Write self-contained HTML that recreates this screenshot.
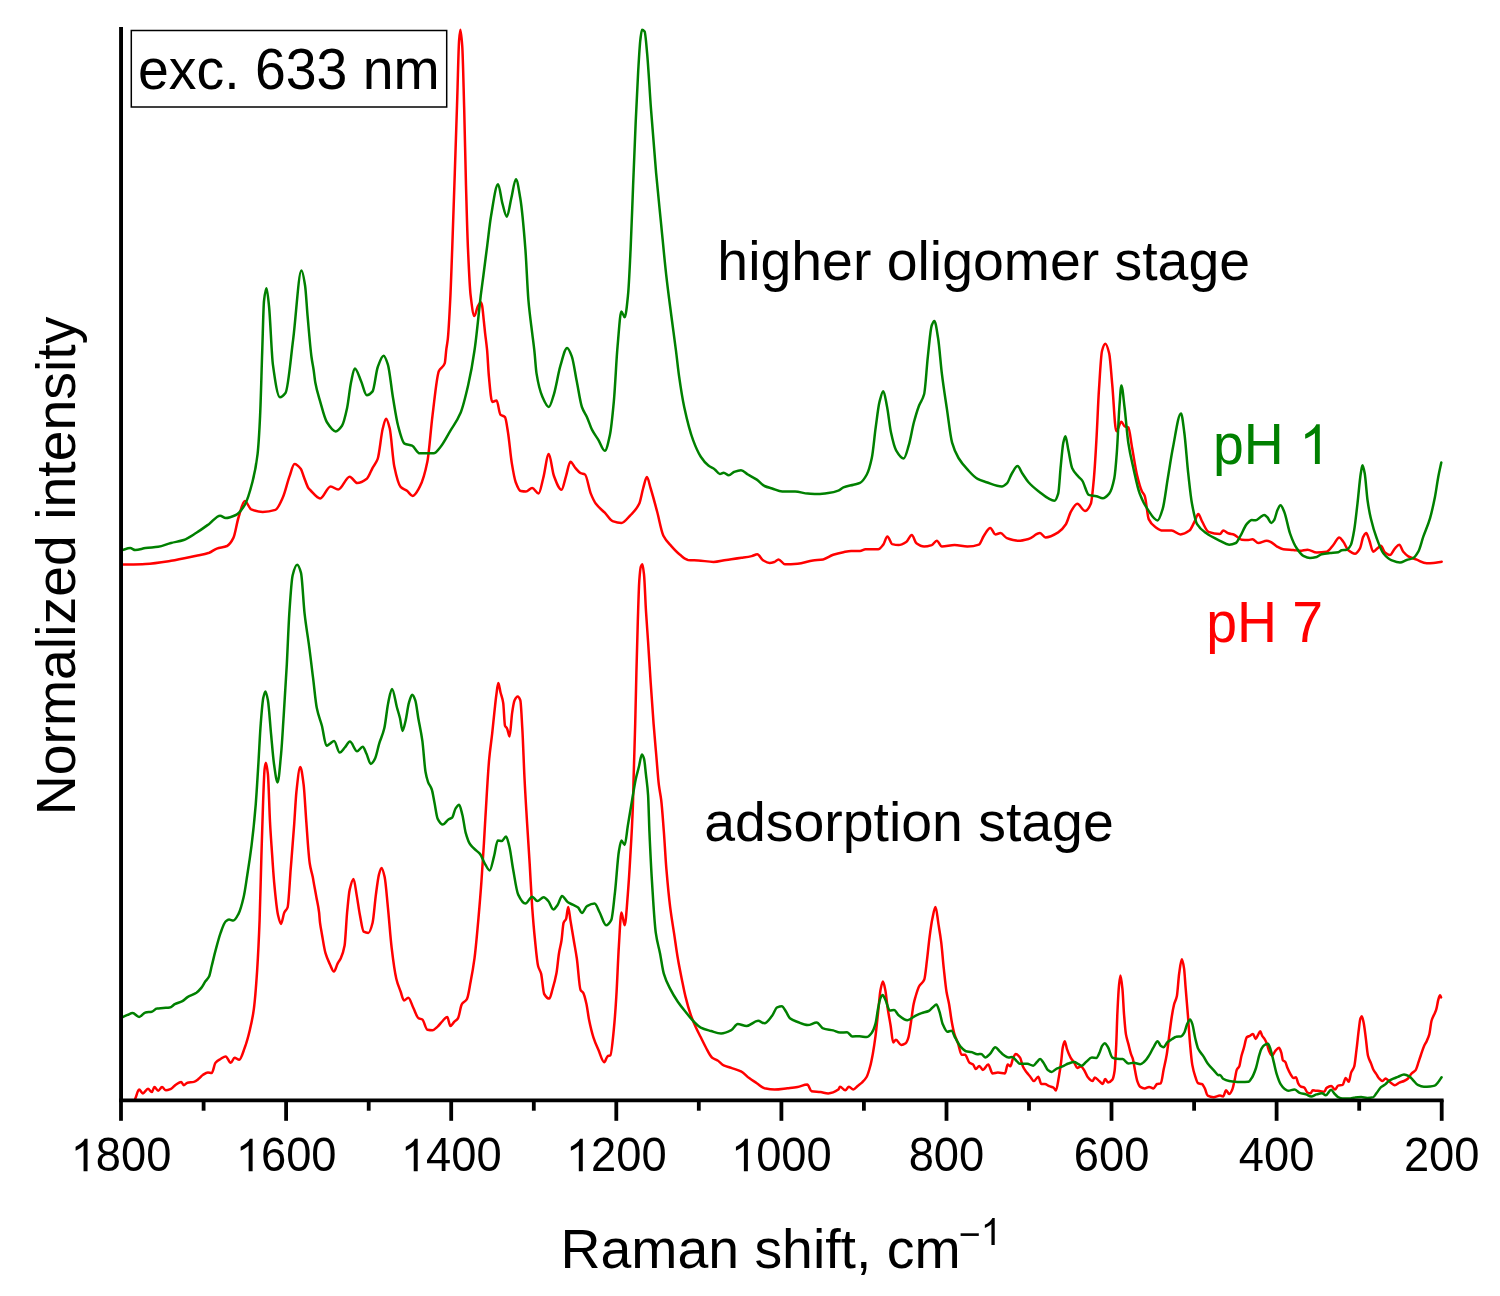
<!DOCTYPE html>
<html><head><meta charset="utf-8"><style>
html,body{margin:0;padding:0;background:#fff;}
svg{display:block;font-family:"Liberation Sans",sans-serif;will-change:transform;}
</style></head><body>
<svg width="1500" height="1296" viewBox="0 0 1500 1296">
<rect x="0" y="0" width="1500" height="1296" fill="#fff"/>
<path fill="none" stroke="#ff0000" stroke-width="2.5" stroke-linejoin="round" stroke-linecap="round" d="M135.3,1098.5C136.6,1095.5 137.8,1089.6 139.1,1089.6C140.4,1089.6 141.6,1093.4 142.9,1093.4C144.6,1093.4 146.3,1088.8 148.0,1088.8C149.3,1088.8 150.5,1092.1 151.8,1092.1C152.7,1092.1 153.5,1087.0 154.4,1087.0C155.7,1087.0 156.9,1090.8 158.2,1090.8C159.5,1090.8 160.7,1087.0 162.0,1087.0C163.3,1087.0 164.6,1090.3 165.9,1090.3C167.6,1090.3 169.3,1089.5 171.0,1088.8C172.7,1088.1 174.4,1085.6 176.1,1084.5C177.8,1083.4 179.4,1081.9 181.1,1081.9C182.0,1081.9 182.8,1085.2 183.7,1085.2C185.0,1085.2 186.2,1083.0 187.5,1082.7C189.6,1082.2 191.8,1082.4 193.9,1081.9C195.6,1081.5 197.3,1079.9 199.0,1078.6C200.3,1077.6 201.5,1075.8 202.8,1075.0C204.5,1073.9 206.2,1072.5 207.9,1072.5C209.2,1072.5 210.4,1073.0 211.7,1073.0C213.0,1073.0 214.2,1064.3 215.5,1062.8C217.2,1060.8 218.9,1060.0 220.6,1059.0C222.3,1058.0 224.0,1056.4 225.7,1056.4C227.4,1056.4 229.1,1062.8 230.8,1062.8C232.1,1062.8 233.3,1057.7 234.6,1057.7C236.1,1057.7 237.7,1059.7 239.2,1059.7C241.1,1059.7 242.9,1052.5 244.8,1047.5C246.5,1042.9 248.2,1036.9 249.9,1029.7C251.2,1024.2 252.5,1018.8 253.8,1009.3C254.9,1001.3 256.0,987.6 257.1,971.1C257.9,958.6 258.8,942.0 259.6,920.1C260.2,904.3 260.8,876.6 261.4,856.4C261.9,838.5 262.5,819.3 263.0,805.1C263.5,791.0 264.1,773.3 264.6,769.1C265.0,765.7 265.5,762.7 265.9,762.7C266.6,762.7 267.2,768.1 267.9,774.2C268.6,780.6 269.3,808.8 270.0,821.7C270.7,835.2 271.5,845.0 272.2,855.7C272.8,864.9 273.5,875.1 274.1,881.9C275.4,895.9 276.7,909.4 278.0,915.0C279.0,919.3 280.0,923.9 281.0,923.9C282.1,923.9 283.2,914.8 284.3,912.5C285.4,910.2 286.5,910.4 287.6,907.4C288.6,904.5 289.7,882.2 290.7,869.2C291.9,854.5 293.0,840.3 294.2,824.2C294.9,814.2 295.7,798.8 296.4,792.0C297.7,780.0 299.0,767.1 300.3,767.1C301.4,767.1 302.5,775.9 303.6,784.4C304.5,791.3 305.4,810.0 306.3,821.7C307.4,836.6 308.6,856.4 309.8,863.8C310.7,870.1 311.7,871.8 312.7,876.8C313.0,878.3 313.3,880.2 313.6,881.9C314.5,887.1 315.5,892.0 316.4,897.2C317.3,902.2 318.2,905.3 319.1,912.5C319.4,914.9 319.7,920.3 320.0,922.7C320.6,927.3 321.1,929.7 321.7,932.9C323.0,940.1 324.2,948.8 325.5,953.2C327.0,958.5 328.6,961.5 330.1,964.7C331.4,967.4 332.6,971.6 333.9,971.6C335.2,971.6 336.4,965.8 337.7,963.4C338.7,961.5 339.8,960.6 340.8,958.3C342.1,955.5 343.3,952.6 344.6,945.6C345.4,941.0 346.3,921.3 347.1,912.5C348.0,903.3 348.8,893.4 349.7,889.6C351.0,884.0 352.2,878.9 353.5,878.9C354.5,878.9 355.6,888.9 356.6,894.6C357.7,900.7 358.8,909.3 359.9,915.0C361.2,921.5 362.4,930.9 363.7,931.6C365.2,932.4 366.8,932.9 368.3,932.9C369.7,932.9 371.2,928.2 372.6,922.7C373.7,918.5 374.8,902.7 375.9,894.6C376.9,887.0 378.0,878.0 379.0,874.3C379.8,871.3 380.7,867.9 381.5,867.9C382.5,867.9 383.6,872.3 384.6,876.8C385.7,881.6 386.8,896.5 387.9,907.4C389.2,920.0 390.4,937.7 391.7,948.2C393.2,960.9 394.8,972.4 396.3,978.7C397.7,984.6 399.2,987.5 400.6,991.5C401.7,994.6 402.9,1000.4 404.0,1000.4C405.4,1000.4 406.9,997.8 408.3,997.8C410.0,997.8 411.7,1004.6 413.4,1008.0C415.1,1011.4 416.8,1017.2 418.5,1018.2C419.8,1018.9 421.0,1018.8 422.3,1019.5C424.0,1020.5 425.7,1029.4 427.4,1029.7C429.1,1030.0 430.8,1030.2 432.5,1030.2C434.2,1030.2 435.9,1028.1 437.6,1026.6C439.3,1025.1 441.0,1022.4 442.7,1020.8C444.2,1019.3 445.8,1016.9 447.3,1016.9C448.3,1016.9 449.3,1025.9 450.3,1025.9C451.6,1025.9 452.8,1023.3 454.1,1022.0C455.4,1020.7 456.7,1020.2 458.0,1018.2C459.3,1016.2 460.5,1006.2 461.8,1004.2C463.5,1001.4 465.2,1002.0 466.9,999.1C468.2,996.9 469.4,988.0 470.7,981.3C472.0,974.6 473.2,967.9 474.5,958.3C475.8,948.7 477.0,934.2 478.3,920.1C479.3,908.6 480.4,896.1 481.4,881.9C482.2,870.5 483.1,857.4 483.9,843.7C484.4,835.5 484.9,825.8 485.4,817.5C486.7,796.6 487.9,772.6 489.2,758.9C490.2,748.1 491.2,742.5 492.2,733.4C492.9,727.0 493.6,719.6 494.3,713.1C495.0,706.9 495.6,700.0 496.3,695.2C497.0,690.4 497.6,683.0 498.3,683.0C499.1,683.0 499.8,689.6 500.6,692.7C501.5,696.2 502.3,697.5 503.2,702.9C503.8,706.6 504.4,724.4 505.0,725.8C505.7,727.3 506.3,727.1 507.0,728.3C507.9,729.8 508.7,736.5 509.6,736.5C510.4,736.5 511.3,718.6 512.1,713.1C512.9,707.6 513.8,702.0 514.6,700.3C515.6,698.2 516.7,696.5 517.7,696.5C518.6,696.5 519.4,697.9 520.3,700.3C521.0,702.1 521.6,716.9 522.3,728.3C523.1,741.5 523.8,765.0 524.6,780.0C525.4,796.3 526.3,809.6 527.1,823.3C528.0,837.6 528.8,849.8 529.7,864.1C530.5,877.8 531.4,895.7 532.2,907.4C533.1,919.6 533.9,929.4 534.8,938.0C535.9,948.9 537.0,961.7 538.1,966.0C539.1,969.9 540.1,970.0 541.1,973.6C542.1,977.4 543.2,992.3 544.2,994.0C545.9,996.9 547.6,998.6 549.3,998.6C550.4,998.6 551.5,992.6 552.6,988.9C553.9,984.6 555.1,980.5 556.4,973.6C557.3,968.9 558.1,958.5 559.0,953.2C559.8,948.1 560.7,945.8 561.5,940.5C562.2,936.0 562.9,924.5 563.6,922.7C564.4,920.5 565.3,920.9 566.1,918.9C566.8,917.2 567.5,906.9 568.2,906.9C568.9,906.9 569.7,915.7 570.4,920.1C571.5,926.9 572.7,933.7 573.8,940.5C574.8,946.5 575.8,951.4 576.8,958.3C578.1,967.0 579.3,988.1 580.6,990.2C581.5,991.6 582.3,991.4 583.2,992.7C584.3,994.3 585.4,999.3 586.5,1004.2C587.3,1007.9 588.2,1015.4 589.0,1019.5C590.5,1026.8 591.9,1032.7 593.4,1037.3C595.1,1042.6 596.8,1046.2 598.5,1050.1C600.4,1054.5 602.4,1062.3 604.3,1062.3C605.3,1062.3 606.4,1057.1 607.4,1056.4C608.4,1055.7 609.4,1055.9 610.4,1055.2C611.5,1054.4 612.7,1040.7 613.8,1029.7C614.6,1021.6 615.5,1009.8 616.3,996.6C617.2,982.9 618.0,959.3 618.9,945.6C619.7,932.4 620.6,912.5 621.4,912.5C622.5,912.5 623.6,925.2 624.7,925.2C625.7,925.2 626.8,907.1 627.8,894.6C628.6,884.5 629.5,870.7 630.3,856.4C631.2,841.5 632.0,829.3 632.9,805.5C633.2,798.2 633.4,784.7 633.7,775.0C634.2,756.9 634.7,742.8 635.2,723.8C635.6,708.6 636.0,688.5 636.4,672.7C636.9,654.3 637.3,636.2 637.8,621.6C638.3,606.0 638.8,587.5 639.3,580.7C639.8,573.5 640.4,567.7 640.9,566.4C641.4,565.2 641.8,564.3 642.3,564.3C642.9,564.3 643.4,569.4 644.0,574.5C644.7,580.5 645.3,600.4 646.0,611.3C646.7,622.7 647.4,631.4 648.1,642.0C649.0,655.1 649.8,670.0 650.7,682.9C651.7,697.3 652.6,711.4 653.6,723.8C654.5,734.9 655.3,744.5 656.2,754.5C657.1,764.9 658.0,777.9 658.9,785.2C659.7,791.5 660.4,793.6 661.2,800.0C662.1,807.2 662.9,819.6 663.8,831.0C664.7,842.4 665.5,858.7 666.4,869.2C667.7,884.5 668.9,897.2 670.2,907.4C671.5,917.6 672.7,924.4 674.0,932.9C675.3,941.4 676.5,950.9 677.8,958.3C679.1,965.9 680.4,972.3 681.7,978.7C683.0,985.0 684.2,991.5 685.5,996.6C687.2,1003.5 688.9,1009.5 690.6,1014.4C692.3,1019.3 694.0,1023.3 695.7,1027.1C697.4,1030.9 699.1,1033.9 700.8,1037.3C702.5,1040.7 704.2,1044.4 705.9,1047.5C708.0,1051.3 710.1,1056.1 712.2,1057.7C713.9,1059.0 715.6,1059.3 717.3,1060.3C719.4,1061.6 721.6,1064.4 723.7,1065.4C726.2,1066.6 728.8,1067.0 731.3,1067.9C734.7,1069.1 738.1,1069.9 741.5,1071.7C744.1,1073.0 746.6,1076.2 749.2,1078.1C751.7,1080.0 754.3,1081.5 756.8,1083.2C759.4,1084.9 761.9,1087.7 764.5,1088.3C767.9,1089.0 771.2,1089.6 774.6,1089.6C778.9,1089.6 783.1,1088.8 787.4,1088.3C790.8,1087.9 794.2,1087.6 797.6,1087.0C800.8,1086.4 804.1,1084.5 807.3,1084.5C808.7,1084.5 810.2,1091.0 811.6,1091.3C814.6,1091.9 817.5,1091.7 820.5,1092.1C823.1,1092.4 825.6,1093.4 828.2,1093.4C831.6,1093.4 834.9,1092.0 838.3,1089.6C838.9,1089.2 839.4,1086.7 840.0,1086.7C841.8,1086.7 843.5,1090.3 845.3,1090.3C846.5,1090.3 847.7,1086.7 848.9,1086.7C850.4,1086.7 851.8,1089.4 853.3,1089.4C854.8,1089.4 856.2,1087.1 857.7,1085.9C859.2,1084.7 860.7,1083.7 862.2,1082.3C863.7,1080.9 865.1,1079.6 866.6,1077.0C867.8,1074.9 869.0,1070.8 870.2,1066.3C871.1,1063.1 871.9,1058.7 872.8,1053.9C873.7,1048.9 874.6,1043.1 875.5,1036.2C876.4,1029.3 877.3,1019.6 878.2,1011.3C879.0,1004.2 879.7,993.9 880.5,990.0C881.3,985.9 882.1,981.5 882.9,981.5C883.7,981.5 884.5,986.1 885.3,990.0C886.1,993.7 886.8,1002.6 887.6,1007.8C888.6,1014.5 889.6,1019.3 890.6,1025.5C891.5,1030.9 892.3,1042.4 893.2,1042.4C894.1,1042.4 895.0,1039.7 895.9,1039.7C897.7,1039.7 899.4,1045.0 901.2,1045.0C902.7,1045.0 904.2,1044.3 905.7,1043.3C906.6,1042.7 907.4,1040.6 908.3,1037.9C909.2,1035.1 910.1,1027.7 911.0,1022.0C911.9,1016.5 912.7,1008.5 913.6,1004.2C914.2,1001.2 914.8,999.2 915.4,997.1C916.6,993.0 917.8,988.8 919.0,986.5C920.8,983.2 922.5,983.7 924.3,979.4C925.2,977.2 926.1,967.1 927.0,959.9C927.9,953.0 928.7,943.4 929.6,936.8C930.5,930.0 931.4,923.3 932.3,919.0C933.4,913.9 934.4,907.0 935.5,907.0C936.5,907.0 937.5,918.2 938.5,924.4C939.4,929.9 940.3,934.9 941.2,942.1C942.1,949.0 942.9,960.6 943.8,968.7C944.7,977.1 945.6,986.3 946.5,991.8C947.4,997.1 948.2,999.4 949.1,1004.2C950.0,1009.2 950.9,1017.1 951.8,1022.0C952.7,1026.9 953.6,1031.4 954.5,1034.4C955.7,1038.3 956.8,1040.0 958.0,1043.3C959.2,1046.7 960.4,1054.8 961.6,1054.8C962.8,1054.8 963.9,1054.8 965.1,1054.8C966.6,1054.8 968.0,1061.7 969.5,1062.8C970.7,1063.7 971.9,1063.7 973.1,1064.6C974.0,1065.3 974.9,1069.0 975.8,1069.0C977.0,1069.0 978.1,1066.0 979.3,1066.0C980.5,1066.0 981.7,1069.9 982.9,1069.9C984.7,1069.9 986.4,1064.6 988.2,1064.6C989.7,1064.6 991.1,1073.4 992.6,1073.4C994.4,1073.4 996.1,1072.5 997.9,1072.5C1000.3,1072.5 1002.6,1073.4 1005.0,1073.4C1005.9,1073.4 1006.8,1064.6 1007.7,1064.6C1008.6,1064.6 1009.5,1066.3 1010.4,1066.3C1011.3,1066.3 1012.1,1060.3 1013.0,1058.4C1013.9,1056.5 1014.8,1053.9 1015.7,1053.9C1017.1,1053.9 1018.6,1055.6 1020.0,1057.6C1021.0,1058.9 1021.9,1064.4 1022.9,1066.4C1024.1,1069.0 1025.4,1070.6 1026.6,1072.3C1027.8,1074.0 1029.1,1075.2 1030.3,1076.7C1031.5,1078.1 1032.7,1081.1 1033.9,1081.1C1035.4,1081.1 1036.8,1076.7 1038.3,1076.7C1039.3,1076.7 1040.3,1084.0 1041.3,1084.0C1042.5,1084.0 1043.7,1084.0 1044.9,1084.0C1046.4,1084.0 1047.8,1085.6 1049.3,1086.2C1050.8,1086.8 1052.2,1086.8 1053.7,1087.7C1054.4,1088.1 1055.2,1090.6 1055.9,1090.6C1056.9,1090.6 1057.9,1082.2 1058.9,1076.7C1059.6,1072.6 1060.4,1067.6 1061.1,1062.0C1061.7,1057.7 1062.2,1050.0 1062.8,1047.3C1063.4,1044.3 1064.1,1041.2 1064.7,1041.2C1065.4,1041.2 1066.2,1046.7 1066.9,1048.8C1068.1,1052.3 1069.4,1055.4 1070.6,1057.6C1071.8,1059.8 1073.1,1060.8 1074.3,1062.7C1075.3,1064.2 1076.2,1067.9 1077.2,1067.9C1078.4,1067.9 1079.7,1066.4 1080.9,1066.4C1082.1,1066.4 1083.3,1069.0 1084.5,1070.8C1085.5,1072.3 1086.5,1075.5 1087.5,1076.7C1089.2,1078.8 1090.9,1081.1 1092.6,1081.1C1093.3,1081.1 1094.1,1077.4 1094.8,1077.4C1096.3,1077.4 1097.7,1079.9 1099.2,1081.1C1100.4,1082.1 1101.7,1084.0 1102.9,1084.0C1103.6,1084.0 1104.4,1078.9 1105.1,1078.9C1106.1,1078.9 1107.0,1082.5 1108.0,1082.5C1109.5,1082.5 1110.9,1081.4 1112.4,1079.6C1113.1,1078.7 1113.9,1075.7 1114.6,1070.8C1115.1,1067.5 1115.6,1057.1 1116.1,1047.3C1116.6,1038.1 1117.0,1020.2 1117.5,1010.7C1118.0,1000.5 1118.5,990.5 1119.0,985.7C1119.5,980.9 1120.0,975.5 1120.5,975.5C1121.1,975.5 1121.8,982.6 1122.4,988.7C1123.0,994.2 1123.5,1008.0 1124.1,1015.1C1124.7,1022.7 1125.3,1030.5 1125.9,1034.1C1126.8,1039.2 1127.6,1040.9 1128.5,1044.4C1129.2,1047.3 1130.0,1050.8 1130.7,1053.2C1131.4,1055.6 1132.2,1056.5 1132.9,1059.1C1133.6,1061.7 1134.4,1067.1 1135.1,1070.8C1135.8,1074.5 1136.6,1079.0 1137.3,1081.1C1138.3,1083.9 1139.3,1086.3 1140.3,1086.9C1141.8,1087.8 1143.2,1088.4 1144.7,1088.4C1146.2,1088.4 1147.6,1086.9 1149.1,1086.9C1150.6,1086.9 1152.0,1088.4 1153.5,1088.4C1154.7,1088.4 1155.9,1084.4 1157.1,1084.0C1158.3,1083.6 1159.6,1083.8 1160.8,1083.3C1161.8,1082.9 1162.7,1074.0 1163.7,1069.3C1164.7,1064.5 1165.7,1060.6 1166.7,1054.7C1167.7,1049.0 1168.6,1039.9 1169.6,1032.7C1170.3,1027.2 1171.1,1021.0 1171.8,1016.5C1172.5,1012.0 1173.3,1007.7 1174.0,1004.8C1175.0,1001.0 1175.9,1000.6 1176.9,996.0C1177.6,992.5 1178.4,979.2 1179.1,974.0C1180.0,967.6 1180.9,959.3 1181.8,959.3C1182.5,959.3 1183.3,963.6 1184.0,968.1C1184.6,971.6 1185.1,981.9 1185.7,988.7C1186.4,997.5 1187.2,1005.8 1187.9,1015.1C1188.6,1024.4 1189.4,1036.4 1190.1,1044.4C1190.8,1052.4 1191.6,1060.8 1192.3,1064.9C1193.3,1070.5 1194.3,1073.8 1195.3,1076.7C1196.3,1079.5 1197.2,1083.0 1198.2,1083.3C1199.4,1083.7 1200.7,1083.6 1201.9,1084.0C1202.9,1084.3 1203.8,1086.6 1204.8,1088.4C1205.8,1090.2 1206.7,1095.2 1207.7,1095.7C1209.7,1096.7 1211.6,1097.2 1213.6,1097.2C1215.7,1097.2 1217.9,1095.6 1220.0,1095.6C1221.0,1095.6 1222.1,1096.4 1223.1,1096.4C1224.1,1096.4 1225.1,1090.2 1226.1,1090.2C1227.1,1090.2 1228.2,1094.1 1229.2,1094.1C1230.2,1094.1 1231.3,1091.8 1232.3,1089.5C1233.1,1087.8 1233.8,1083.6 1234.6,1080.3C1235.4,1077.0 1236.1,1071.1 1236.9,1069.5C1237.7,1067.9 1238.4,1068.1 1239.2,1066.5C1240.0,1064.9 1240.7,1058.7 1241.5,1055.7C1242.3,1052.7 1243.0,1050.7 1243.8,1048.1C1244.8,1044.7 1245.8,1038.2 1246.8,1037.3C1247.8,1036.4 1248.9,1036.3 1249.9,1035.8C1250.9,1035.3 1252.0,1034.0 1253.0,1034.0C1253.9,1034.0 1254.7,1038.9 1255.6,1038.9C1256.5,1038.9 1257.4,1035.8 1258.3,1034.3C1258.9,1033.2 1259.6,1031.2 1260.2,1031.2C1260.9,1031.2 1261.5,1034.7 1262.2,1035.8C1263.0,1037.1 1263.7,1037.7 1264.5,1038.9C1265.3,1040.1 1266.0,1041.6 1266.8,1043.5C1267.6,1045.4 1268.3,1049.5 1269.1,1051.1C1270.1,1053.2 1271.1,1055.7 1272.1,1055.7C1273.1,1055.7 1274.2,1052.2 1275.2,1051.1C1276.5,1049.7 1277.7,1047.8 1279.0,1047.8C1279.8,1047.8 1280.5,1050.4 1281.3,1052.7C1281.8,1054.3 1282.4,1059.6 1282.9,1060.3C1283.7,1061.3 1284.4,1061.1 1285.2,1061.9C1286.0,1062.7 1286.7,1066.2 1287.5,1068.0C1288.5,1070.3 1289.5,1072.5 1290.5,1074.1C1291.5,1075.7 1292.6,1078.0 1293.6,1078.0C1294.4,1078.0 1295.1,1077.2 1295.9,1077.2C1296.7,1077.2 1297.4,1081.9 1298.2,1083.3C1299.0,1084.7 1299.7,1086.0 1300.5,1086.4C1301.8,1087.1 1303.0,1086.9 1304.3,1087.6C1305.3,1088.2 1306.4,1092.0 1307.4,1092.5C1308.4,1093.0 1309.5,1093.3 1310.5,1093.3C1311.3,1093.3 1312.0,1090.2 1312.8,1090.2C1313.8,1090.2 1314.8,1090.6 1315.8,1090.7C1317.1,1090.8 1318.4,1090.9 1319.7,1091.0C1321.2,1091.2 1322.8,1091.8 1324.3,1091.8C1325.1,1091.8 1325.8,1088.4 1326.6,1087.9C1328.1,1086.9 1329.7,1086.1 1331.2,1086.1C1332.5,1086.1 1333.7,1089.5 1335.0,1089.5C1336.0,1089.5 1337.1,1085.9 1338.1,1085.6C1339.6,1085.2 1341.2,1085.4 1342.7,1084.9C1343.7,1084.6 1344.7,1078.0 1345.7,1078.0C1346.7,1078.0 1347.8,1081.8 1348.8,1081.8C1349.6,1081.8 1350.3,1074.7 1351.1,1072.6C1352.1,1069.8 1353.2,1069.8 1354.2,1066.5C1355.0,1064.1 1355.7,1055.7 1356.5,1049.6C1357.3,1043.5 1358.0,1035.7 1358.8,1029.7C1359.3,1025.8 1359.8,1020.3 1360.3,1018.9C1360.8,1017.5 1361.3,1016.3 1361.8,1016.3C1362.5,1016.3 1363.1,1020.3 1363.8,1023.5C1364.4,1026.6 1365.1,1032.5 1365.7,1037.3C1366.5,1043.1 1367.2,1052.7 1368.0,1055.7C1369.0,1059.7 1370.0,1060.8 1371.0,1063.4C1371.8,1065.4 1372.5,1068.0 1373.3,1069.5C1374.3,1071.5 1375.4,1072.5 1376.4,1074.1C1377.2,1075.3 1377.9,1077.1 1378.7,1078.0C1380.0,1079.4 1381.2,1081.0 1382.5,1081.0C1383.5,1081.0 1384.6,1078.4 1385.6,1078.4C1386.6,1078.4 1387.7,1080.2 1388.7,1081.0C1390.7,1082.6 1392.8,1085.2 1394.8,1085.2C1396.3,1085.2 1397.9,1083.3 1399.4,1082.6C1400.9,1081.9 1402.5,1081.7 1404.0,1081.0C1405.3,1080.4 1406.5,1079.8 1407.8,1078.7C1409.1,1077.6 1410.4,1074.7 1411.7,1073.4C1413.0,1072.1 1414.2,1071.9 1415.5,1070.3C1416.5,1069.0 1417.6,1064.8 1418.6,1061.9C1419.4,1059.7 1420.1,1057.2 1420.9,1055.0C1421.9,1052.1 1422.9,1048.8 1423.9,1046.5C1424.9,1044.1 1426.0,1042.8 1427.0,1040.4C1427.8,1038.7 1428.5,1037.1 1429.3,1034.3C1430.1,1031.5 1430.8,1023.1 1431.6,1020.5C1432.4,1017.9 1433.1,1016.9 1433.9,1015.1C1434.7,1013.3 1435.4,1012.1 1436.2,1009.7C1437.0,1007.3 1437.7,1001.5 1438.5,999.0C1439.0,997.4 1439.5,995.2 1440.0,995.2C1440.4,995.2 1440.7,996.7 1441.1,997.5"/>
<path fill="none" stroke="#008000" stroke-width="2.5" stroke-linejoin="round" stroke-linecap="round" d="M123.1,1016.9C124.6,1016.2 126.1,1015.5 127.6,1014.9C129.3,1014.2 131.0,1013.1 132.7,1013.1C134.8,1013.1 137.0,1016.9 139.1,1016.9C141.2,1016.9 143.4,1012.8 145.5,1012.4C147.6,1012.0 149.7,1012.2 151.8,1011.8C153.5,1011.5 155.2,1008.7 156.9,1008.5C159.0,1008.2 161.2,1008.2 163.3,1008.0C165.4,1007.8 167.6,1007.8 169.7,1007.5C171.4,1007.3 173.1,1005.1 174.8,1004.2C177.3,1002.9 179.9,1002.5 182.4,1001.1C184.1,1000.2 185.8,998.2 187.5,997.1C190.5,995.3 193.4,994.7 196.4,992.7C198.1,991.5 199.8,989.7 201.5,987.6C202.8,986.0 204.1,983.2 205.4,981.3C206.7,979.4 207.9,978.9 209.2,976.2C210.0,974.5 210.9,969.4 211.7,966.0C213.0,960.9 214.2,955.5 215.5,950.7C217.2,944.3 218.9,937.6 220.6,932.9C222.3,928.2 224.0,922.8 225.7,921.4C226.8,920.5 227.9,919.6 229.0,919.6C230.5,919.6 231.9,920.6 233.4,920.6C235.1,920.6 236.8,917.0 238.5,913.8C240.2,910.6 241.9,904.5 243.6,897.2C244.9,891.8 246.1,882.5 247.4,874.3C248.8,865.5 250.1,857.0 251.5,845.9C252.9,834.6 254.3,821.8 255.7,804.8C256.5,794.7 257.4,779.9 258.2,766.6C259.1,752.8 259.9,734.1 260.8,723.2C261.6,712.7 262.5,701.6 263.3,697.8C264.0,694.6 264.7,691.4 265.4,691.4C266.2,691.4 267.1,695.9 267.9,700.3C268.9,705.7 270.0,722.6 271.0,733.4C272.0,743.8 273.0,757.1 274.0,764.0C275.2,772.3 276.4,782.4 277.6,782.4C278.8,782.4 279.9,766.2 281.1,753.8C282.0,744.6 282.8,729.0 283.7,715.6C284.7,699.6 285.8,683.5 286.8,664.6C287.6,649.4 288.5,626.2 289.3,613.7C290.4,597.3 291.5,579.9 292.6,575.5C294.1,569.3 295.7,564.8 297.2,564.8C298.5,564.8 299.7,568.3 301.0,572.9C302.2,577.2 303.4,603.0 304.6,613.7C306.1,627.3 307.7,635.1 309.2,646.8C310.5,656.4 311.7,667.2 313.0,677.4C314.3,687.6 315.5,701.7 316.8,708.0C318.5,716.4 320.2,719.2 321.9,725.8C323.4,731.7 325.0,745.7 326.5,745.7C327.7,745.7 328.9,744.3 330.1,743.6C331.4,742.8 332.8,741.1 334.1,741.1C336.0,741.1 337.8,752.5 339.7,752.5C341.4,752.5 343.1,749.3 344.8,747.5C346.5,745.7 348.2,741.6 349.9,741.6C352.3,741.6 354.7,751.3 357.1,751.3C359.0,751.3 360.8,746.7 362.7,746.7C364.0,746.7 365.2,751.2 366.5,753.8C367.9,756.8 369.4,764.0 370.8,764.0C372.2,764.0 373.5,761.4 374.9,758.9C376.3,756.3 377.8,748.3 379.2,743.6C380.9,738.1 382.6,735.4 384.3,728.3C385.6,722.9 386.9,709.0 388.2,702.9C389.5,696.9 390.7,688.9 392.0,688.9C393.7,688.9 395.4,701.9 397.1,708.0C398.1,711.5 399.0,714.2 400.0,718.2C400.8,721.7 401.7,730.9 402.5,730.9C403.5,730.9 404.6,724.9 405.6,720.7C406.7,716.2 407.8,706.6 408.9,702.9C410.0,699.2 411.1,694.7 412.2,694.7C413.2,694.7 414.3,697.4 415.3,700.3C416.3,703.1 417.3,712.4 418.3,718.2C419.7,726.1 421.0,731.2 422.4,741.1C423.4,748.6 424.5,765.9 425.5,771.7C426.3,776.4 427.2,779.5 428.0,781.8C429.3,785.3 430.5,785.8 431.8,789.5C432.7,792.0 433.5,797.9 434.4,802.2C435.5,807.6 436.6,816.7 437.7,818.8C439.4,822.1 441.1,824.6 442.8,824.6C444.7,824.6 446.5,820.7 448.4,819.5C449.7,818.7 450.9,818.6 452.2,817.5C453.3,816.5 454.4,810.3 455.5,808.6C456.7,806.8 457.9,804.8 459.1,804.8C460.2,804.8 461.3,810.7 462.4,815.0C463.5,819.3 464.6,828.9 465.7,832.8C467.2,838.1 468.6,842.1 470.1,844.3C472.2,847.4 474.3,848.6 476.4,850.6C477.6,851.7 478.8,852.4 480.0,853.9C481.7,856.0 483.4,861.3 485.1,864.1C486.6,866.6 488.2,870.4 489.7,870.4C491.1,870.4 492.6,861.6 494.0,856.4C495.3,851.8 496.5,840.6 497.8,840.6C499.1,840.6 500.4,841.1 501.7,841.1C503.1,841.1 504.6,836.6 506.0,836.6C507.1,836.6 508.2,841.9 509.3,846.2C510.6,851.1 511.8,862.2 513.1,869.2C514.8,878.5 516.5,891.1 518.2,894.6C520.6,899.6 523.0,903.6 525.4,903.6C527.7,903.6 529.9,896.7 532.2,896.7C533.9,896.7 535.6,901.0 537.3,901.0C539.4,901.0 541.6,897.2 543.7,897.2C545.2,897.2 546.8,899.3 548.3,901.0C550.0,902.9 551.7,909.4 553.4,909.4C554.8,909.4 556.3,906.8 557.7,904.8C559.1,902.8 560.6,895.9 562.0,895.9C564.0,895.9 565.9,901.0 567.9,902.3C570.0,903.7 572.2,904.3 574.3,905.4C575.6,906.0 576.8,906.4 578.1,907.4C579.4,908.4 580.6,913.0 581.9,913.0C583.6,913.0 585.3,907.0 587.0,906.1C589.5,904.7 592.1,903.6 594.6,903.6C596.3,903.6 598.0,909.4 599.7,912.5C601.8,916.5 604.0,925.2 606.1,925.2C607.8,925.2 609.5,923.2 611.2,920.1C612.5,917.8 613.7,903.0 615.0,892.1C616.3,880.9 617.6,859.0 618.9,851.3C619.7,846.4 620.6,840.6 621.4,840.6C622.5,840.6 623.6,845.0 624.7,845.0C625.7,845.0 626.8,832.2 627.8,825.9C629.5,815.6 631.2,805.1 632.9,795.3C633.9,789.7 634.8,783.5 635.8,779.0C636.8,774.2 637.9,771.0 638.9,766.8C639.9,762.8 640.9,754.5 641.9,754.5C642.6,754.5 643.3,756.4 644.0,758.6C644.7,760.7 645.3,769.1 646.0,775.0C646.7,781.2 647.4,785.0 648.1,795.4C648.5,801.9 649.0,820.9 649.4,831.0C650.3,851.2 651.1,867.9 652.0,881.9C653.3,902.3 654.5,923.8 655.8,932.9C657.2,942.9 658.6,946.1 660.0,953.2C661.3,959.6 662.5,969.3 663.8,973.6C665.9,980.9 668.1,984.7 670.2,988.9C672.7,993.9 675.3,998.0 677.8,1001.7C680.4,1005.5 682.9,1008.6 685.5,1011.8C688.0,1015.0 690.6,1018.2 693.1,1020.8C695.7,1023.4 698.2,1026.3 700.8,1027.6C704.2,1029.3 707.6,1030.0 711.0,1031.0C714.4,1032.0 717.7,1033.5 721.1,1033.5C724.5,1033.5 727.9,1031.9 731.3,1030.2C733.4,1029.1 735.6,1024.1 737.7,1024.1C740.7,1024.1 743.6,1025.9 746.6,1025.9C750.4,1025.9 754.3,1020.8 758.1,1020.8C760.2,1020.8 762.4,1023.3 764.5,1023.3C767.0,1023.3 769.6,1018.9 772.1,1015.7C773.8,1013.5 775.5,1008.0 777.2,1007.3C778.7,1006.7 780.3,1006.2 781.8,1006.2C783.2,1006.2 784.7,1009.7 786.1,1011.8C787.4,1013.7 788.6,1017.2 789.9,1018.2C792.5,1020.3 795.0,1021.0 797.6,1022.0C801.0,1023.3 804.4,1025.1 807.8,1025.1C810.8,1025.1 813.7,1022.5 816.7,1022.5C818.8,1022.5 821.0,1027.7 823.1,1028.4C826.5,1029.6 829.8,1029.6 833.2,1030.4C835.5,1031.0 837.7,1032.6 840.0,1032.6C842.4,1032.6 844.7,1032.3 847.1,1032.3C848.9,1032.3 850.6,1036.5 852.4,1036.5C854.8,1036.5 857.1,1036.2 859.5,1036.2C861.9,1036.2 864.2,1037.1 866.6,1037.1C868.4,1037.1 870.1,1034.9 871.9,1032.6C873.1,1031.0 874.3,1028.0 875.5,1023.7C876.4,1020.5 877.3,1012.2 878.2,1007.8C879.0,1004.0 879.7,999.6 880.5,998.0C881.2,996.5 881.9,995.0 882.6,995.0C883.7,995.0 884.7,998.5 885.8,1000.7C887.1,1003.4 888.4,1010.4 889.7,1010.4C891.2,1010.4 892.6,1009.9 894.1,1009.9C895.6,1009.9 897.1,1014.0 898.6,1015.2C901.5,1017.5 904.5,1020.2 907.4,1020.2C909.8,1020.2 912.1,1017.5 914.5,1016.3C916.9,1015.1 919.2,1013.9 921.6,1013.1C924.0,1012.3 926.3,1012.1 928.7,1011.0C930.2,1010.3 931.7,1008.1 933.2,1006.9C934.3,1006.0 935.3,1004.6 936.4,1004.6C937.4,1004.6 938.4,1008.5 939.4,1011.3C940.6,1014.6 941.7,1022.0 942.9,1024.6C944.4,1028.0 945.9,1031.7 947.4,1031.7C948.7,1031.7 950.1,1030.8 951.4,1030.8C952.7,1030.8 954.0,1035.6 955.3,1037.9C957.1,1041.0 958.9,1044.8 960.7,1046.8C962.5,1048.8 964.2,1050.8 966.0,1051.3C967.8,1051.8 969.5,1051.7 971.3,1052.1C973.4,1052.5 975.4,1054.3 977.5,1054.3C978.7,1054.3 979.9,1053.9 981.1,1053.9C982.6,1053.9 984.0,1057.5 985.5,1057.5C987.0,1057.5 988.5,1055.4 990.0,1053.9C991.8,1052.2 993.5,1047.2 995.3,1047.2C996.8,1047.2 998.2,1049.9 999.7,1051.3C1000.9,1052.4 1002.1,1054.0 1003.3,1054.8C1005.1,1056.0 1006.8,1057.5 1008.6,1057.5C1009.8,1057.5 1010.9,1057.1 1012.1,1057.1C1013.9,1057.1 1015.7,1060.4 1017.5,1061.9C1018.3,1062.6 1019.2,1063.8 1020.0,1063.8C1022.4,1063.8 1024.9,1063.8 1027.3,1063.8C1029.3,1063.8 1031.2,1065.7 1033.2,1065.7C1034.4,1065.7 1035.7,1063.2 1036.9,1062.0C1038.0,1061.0 1039.1,1059.1 1040.2,1059.1C1041.3,1059.1 1042.4,1061.3 1043.5,1062.7C1045.0,1064.6 1046.4,1068.9 1047.9,1070.1C1049.1,1071.0 1050.3,1072.0 1051.5,1072.0C1053.2,1072.0 1055.0,1069.4 1056.7,1068.6C1058.6,1067.7 1060.6,1067.2 1062.5,1066.4C1064.5,1065.6 1066.4,1064.2 1068.4,1063.5C1070.4,1062.8 1072.3,1062.0 1074.3,1062.0C1075.5,1062.0 1076.7,1063.2 1077.9,1063.8C1079.1,1064.4 1080.4,1065.7 1081.6,1065.7C1083.1,1065.7 1084.5,1063.2 1086.0,1062.0C1088.0,1060.4 1089.9,1057.6 1091.9,1057.6C1093.4,1057.6 1094.8,1057.9 1096.3,1057.9C1097.5,1057.9 1098.7,1054.2 1099.9,1051.7C1100.6,1050.1 1101.4,1047.0 1102.1,1045.9C1103.0,1044.6 1103.9,1043.2 1104.8,1043.2C1105.9,1043.2 1106.9,1045.6 1108.0,1047.3C1109.5,1049.7 1110.9,1056.9 1112.4,1057.6C1113.9,1058.3 1115.3,1058.7 1116.8,1058.8C1118.8,1059.0 1120.7,1058.9 1122.7,1059.1C1124.6,1059.3 1126.6,1063.5 1128.5,1063.5C1130.2,1063.5 1132.0,1062.7 1133.7,1062.7C1135.9,1062.7 1138.1,1064.2 1140.3,1064.2C1141.8,1064.2 1143.2,1062.6 1144.7,1061.3C1146.2,1060.0 1147.6,1057.7 1149.1,1055.4C1150.6,1053.1 1152.0,1049.7 1153.5,1047.3C1154.9,1045.1 1156.2,1041.2 1157.6,1041.2C1158.7,1041.2 1159.7,1045.1 1160.8,1045.9C1161.7,1046.6 1162.5,1047.3 1163.4,1047.3C1164.7,1047.3 1166.1,1043.4 1167.4,1042.2C1168.9,1040.9 1170.3,1040.2 1171.8,1039.3C1173.3,1038.4 1174.7,1037.0 1176.2,1036.8C1177.9,1036.5 1179.6,1036.6 1181.3,1036.3C1182.3,1036.1 1183.3,1034.4 1184.3,1032.7C1185.3,1031.0 1186.2,1025.9 1187.2,1023.9C1188.2,1021.9 1189.1,1019.5 1190.1,1019.5C1190.8,1019.5 1191.6,1021.9 1192.3,1023.9C1193.3,1026.7 1194.3,1034.4 1195.3,1038.5C1196.3,1042.5 1197.2,1046.7 1198.2,1048.8C1199.9,1052.4 1201.6,1053.5 1203.3,1056.1C1204.8,1058.4 1206.2,1061.5 1207.7,1063.5C1209.7,1066.2 1211.6,1068.0 1213.6,1070.1C1215.3,1071.9 1217.0,1075.2 1218.7,1075.2C1219.1,1075.2 1219.6,1074.9 1220.0,1074.9C1221.0,1074.9 1222.1,1078.1 1223.1,1078.7C1225.1,1079.9 1227.2,1080.6 1229.2,1081.0C1231.2,1081.4 1233.3,1081.7 1235.3,1081.8C1237.4,1081.9 1239.4,1082.1 1241.5,1082.1C1243.8,1082.1 1246.1,1082.0 1248.4,1081.8C1249.7,1081.7 1250.9,1079.2 1252.2,1077.2C1253.5,1075.2 1254.7,1071.8 1256.0,1068.0C1257.0,1064.9 1258.1,1059.2 1259.1,1055.7C1259.9,1053.1 1260.6,1050.2 1261.4,1048.8C1262.4,1047.0 1263.5,1045.6 1264.5,1045.0C1265.7,1044.4 1266.8,1043.8 1268.0,1043.8C1268.9,1043.8 1269.7,1047.1 1270.6,1049.6C1271.6,1052.5 1272.7,1057.7 1273.7,1061.9C1274.7,1065.9 1275.7,1070.9 1276.7,1074.1C1278.0,1078.2 1279.3,1082.0 1280.6,1084.1C1281.9,1086.2 1283.1,1087.8 1284.4,1088.7C1285.7,1089.6 1286.9,1090.7 1288.2,1090.7C1290.3,1090.7 1292.3,1089.5 1294.4,1089.5C1296.2,1089.5 1297.9,1092.1 1299.7,1092.8C1301.8,1093.6 1303.8,1093.8 1305.9,1094.4C1307.7,1094.9 1309.4,1096.4 1311.2,1096.4C1313.0,1096.4 1314.8,1094.9 1316.6,1094.4C1318.4,1093.9 1320.2,1093.3 1322.0,1093.3C1323.3,1093.3 1324.5,1095.3 1325.8,1095.3C1327.6,1095.3 1329.4,1089.8 1331.2,1089.8C1332.2,1089.8 1333.2,1092.2 1334.2,1093.3C1335.5,1094.7 1336.8,1096.5 1338.1,1097.1C1339.6,1097.8 1341.2,1098.4 1342.7,1098.4C1345.2,1098.4 1347.8,1098.4 1350.3,1098.4C1351.8,1098.4 1353.4,1097.5 1354.9,1097.4C1357.0,1097.2 1359.0,1097.1 1361.1,1097.1C1363.1,1097.1 1365.2,1097.9 1367.2,1097.9C1369.2,1097.9 1371.3,1097.6 1373.3,1097.1C1374.3,1096.8 1375.4,1094.6 1376.4,1093.3C1377.9,1091.4 1379.5,1088.6 1381.0,1087.2C1382.5,1085.8 1384.1,1085.4 1385.6,1084.1C1386.6,1083.3 1387.7,1081.7 1388.7,1081.0C1390.2,1080.0 1391.8,1079.4 1393.3,1078.7C1394.8,1078.0 1396.4,1077.5 1397.9,1076.9C1399.9,1076.1 1402.0,1074.4 1404.0,1074.4C1405.8,1074.4 1407.6,1075.4 1409.4,1076.4C1410.7,1077.1 1411.9,1079.0 1413.2,1080.3C1414.7,1081.9 1416.3,1084.2 1417.8,1084.9C1419.8,1085.9 1421.9,1086.7 1423.9,1086.7C1426.0,1086.7 1428.0,1086.6 1430.1,1086.4C1431.6,1086.3 1433.2,1086.1 1434.7,1085.6C1436.0,1085.2 1437.2,1083.3 1438.5,1081.8C1439.5,1080.6 1440.6,1078.7 1441.6,1077.2"/>
<path fill="none" stroke="#ff0000" stroke-width="2.5" stroke-linejoin="round" stroke-linecap="round" d="M122.5,564.6C130.2,564.4 137.8,564.3 145.5,563.9C154.0,563.5 162.5,562.1 171.0,560.8C179.5,559.5 187.9,557.5 196.4,555.7C200.7,554.8 204.9,554.1 209.2,552.7C211.7,551.8 214.3,549.5 216.8,548.6C220.2,547.4 223.6,547.5 227.0,546.0C229.1,545.0 231.3,542.1 233.4,537.9C235.1,534.6 236.8,522.9 238.5,517.5C240.6,510.8 242.7,501.0 244.8,501.0C246.9,501.0 249.1,508.5 251.2,509.4C255.0,510.9 258.9,511.9 262.7,511.9C266.9,511.9 271.2,511.2 275.4,509.9C277.9,509.1 280.5,502.7 283.0,497.1C285.1,492.4 287.3,482.6 289.4,476.7C291.1,472.0 292.8,464.0 294.5,464.0C296.6,464.0 298.8,466.3 300.9,469.1C301.9,470.4 302.8,474.2 303.8,476.7C305.4,480.7 306.9,486.0 308.5,488.2C309.1,489.0 309.6,489.5 310.2,490.0C313.5,493.2 316.9,498.4 320.2,498.4C323.7,498.4 327.1,486.4 330.6,486.4C333.1,486.4 335.7,489.5 338.2,489.5C342.0,489.5 345.9,476.7 349.7,476.7C352.2,476.7 354.8,483.1 357.3,483.1C360.5,483.1 363.6,481.2 366.8,478.8C368.7,477.3 370.7,471.3 372.6,467.8C374.3,464.7 376.0,463.5 377.7,458.9C379.4,454.3 381.1,434.8 382.8,428.3C383.9,424.1 385.0,418.7 386.1,418.7C387.3,418.7 388.5,423.6 389.7,428.3C391.2,434.4 392.8,459.3 394.3,466.6C396.4,476.6 398.5,484.7 400.6,486.9C402.7,489.1 404.9,489.2 407.0,490.8C408.9,492.2 410.7,495.9 412.6,495.9C415.0,495.9 417.3,491.2 419.7,486.9C422.3,482.2 424.8,474.3 427.4,461.5C429.1,453.0 430.8,429.0 432.5,415.6C434.6,398.8 436.8,375.7 438.9,371.0C440.8,366.8 442.8,368.5 444.7,363.4C445.3,361.9 445.8,353.0 446.4,348.7C446.9,345.2 447.3,343.5 447.8,339.2C448.6,331.8 449.4,316.3 450.2,300.3C450.9,287.0 451.5,267.4 452.2,249.3C453.1,225.7 453.9,198.9 454.8,172.9C455.6,147.9 456.5,122.1 457.3,96.4C457.9,77.9 458.5,48.0 459.1,40.4C459.5,34.9 460.0,29.7 460.4,29.7C461.0,29.7 461.6,37.3 462.2,45.5C462.9,54.6 463.5,84.9 464.2,109.2C464.8,131.1 465.4,163.7 466.0,185.6C466.7,209.9 467.3,234.0 468.0,249.3C468.9,269.2 469.7,287.7 470.6,295.2C471.9,306.1 473.1,316.0 474.4,316.0C475.5,316.0 476.6,308.6 477.7,306.6C478.7,304.7 479.8,302.3 480.8,302.3C481.2,302.3 481.6,303.7 482.0,305.1C482.6,307.2 483.2,315.1 483.8,320.6C484.2,324.5 484.7,329.2 485.1,333.1C485.8,339.2 486.4,343.0 487.1,350.2C487.7,356.7 488.3,370.2 488.9,376.4C490.0,387.8 491.1,401.9 492.2,401.9C493.7,401.9 495.1,400.6 496.6,400.6C497.9,400.6 499.1,413.3 500.4,414.6C501.9,416.1 503.5,415.5 505.0,417.2C506.0,418.3 507.0,426.3 508.0,432.5C509.3,440.3 510.5,455.4 511.8,463.1C513.1,471.0 514.4,478.8 515.7,482.2C517.4,486.7 519.1,490.8 520.8,491.1C522.5,491.4 524.2,491.6 525.9,491.6C528.0,491.6 530.1,488.0 532.2,488.0C534.3,488.0 536.5,493.6 538.6,493.6C540.1,493.6 541.7,484.0 543.2,478.3C545.1,471.3 546.9,454.1 548.8,454.1C550.5,454.1 552.2,471.3 553.9,475.8C556.4,482.5 559.0,489.8 561.5,489.8C563.0,489.8 564.6,480.6 566.1,475.8C567.5,471.3 569.0,461.8 570.4,461.8C572.1,461.8 573.8,466.3 575.5,468.2C577.2,470.1 578.9,472.4 580.6,473.2C582.1,473.9 583.5,473.7 585.0,474.5C586.9,475.5 588.9,488.8 590.8,493.6C592.5,497.8 594.2,501.5 595.9,503.8C598.9,507.9 601.8,509.6 604.8,512.7C607.4,515.4 609.9,520.2 612.5,521.1C615.5,522.1 618.4,522.9 621.4,522.9C624.4,522.9 627.3,518.4 630.3,515.3C633.3,512.2 636.2,510.0 639.2,503.8C640.5,501.1 641.8,492.9 643.1,488.5C644.4,484.2 645.6,477.1 646.9,477.1C648.2,477.1 649.4,484.4 650.7,488.5C652.8,495.4 655.0,503.6 657.1,511.5C659.2,519.3 661.3,531.5 663.4,535.7C666.0,540.8 668.5,543.0 671.1,545.9C674.1,549.3 677.0,552.5 680.0,554.8C682.7,556.9 685.3,559.6 688.0,559.9C691.4,560.2 694.8,560.2 698.2,560.4C703.3,560.7 708.4,561.9 713.5,561.9C717.7,561.9 722.0,560.5 726.2,559.9C731.3,559.2 736.4,558.6 741.5,557.8C744.9,557.3 748.3,556.9 751.7,556.1C753.6,555.7 755.4,554.3 757.3,554.3C759.3,554.3 761.2,559.3 763.2,560.4C765.3,561.6 767.5,562.9 769.6,562.9C771.3,562.9 772.9,562.4 774.6,561.9C775.9,561.5 777.2,559.4 778.5,559.4C780.6,559.4 782.7,564.2 784.8,564.2C789.1,564.2 793.3,564.0 797.6,563.7C802.7,563.4 807.8,561.1 812.9,560.4C816.3,560.0 819.7,559.9 823.1,559.4C826.5,558.9 829.8,555.9 833.2,554.8C836.6,553.7 840.0,552.9 843.4,552.2C846.0,551.7 848.5,551.0 851.1,551.0C854.1,551.0 857.0,551.0 860.0,551.0C861.8,551.0 863.7,549.2 865.5,549.2C869.7,549.2 874.0,549.2 878.2,549.2C879.9,549.2 881.6,546.7 883.3,544.6C884.7,542.9 886.0,536.4 887.4,536.4C889.0,536.4 890.6,543.6 892.2,544.1C894.3,544.7 896.5,545.1 898.6,545.1C901.1,545.1 903.7,543.6 906.2,542.0C908.1,540.8 909.9,534.9 911.8,534.9C913.3,534.9 914.9,542.2 916.4,543.3C919.0,545.2 921.5,546.6 924.1,546.6C926.6,546.6 929.2,545.9 931.7,545.1C933.4,544.5 935.1,540.8 936.8,540.8C938.5,540.8 940.2,546.6 941.9,546.6C946.1,546.6 950.4,545.1 954.6,545.1C958.9,545.1 963.1,546.6 967.4,546.6C971.2,546.6 975.1,546.0 978.9,544.6C980.6,544.0 982.2,538.1 983.9,535.7C986.0,532.6 988.2,528.0 990.3,528.0C992.0,528.0 993.7,534.4 995.4,534.4C997.1,534.4 998.8,533.1 1000.5,533.1C1002.6,533.1 1004.8,537.4 1006.9,538.2C1010.7,539.6 1014.5,540.8 1018.3,540.8C1021.7,540.8 1025.1,539.9 1028.5,539.0C1032.3,538.0 1036.2,533.1 1040.0,533.1C1041.8,533.1 1043.7,537.5 1045.5,537.5C1049.7,537.5 1054.0,535.0 1058.2,532.4C1060.8,530.8 1063.3,528.1 1065.9,524.2C1067.6,521.6 1069.3,514.3 1071.0,511.5C1073.1,508.0 1075.2,503.8 1077.3,503.8C1079.9,503.8 1082.4,511.0 1085.0,511.0C1086.9,511.0 1088.9,508.3 1090.8,503.8C1091.8,501.4 1092.9,489.5 1093.9,478.3C1094.7,469.3 1095.6,454.4 1096.4,440.1C1097.3,425.2 1098.1,402.6 1099.0,389.2C1100.0,373.7 1101.0,354.7 1102.0,351.0C1103.1,346.8 1104.3,343.8 1105.4,343.8C1106.7,343.8 1107.9,348.2 1109.2,353.5C1110.2,357.7 1111.2,373.3 1112.2,384.1C1113.6,398.8 1114.9,431.2 1116.3,431.2C1118.0,431.2 1119.7,421.8 1121.4,421.8C1122.4,421.8 1123.5,425.5 1124.5,426.1C1125.8,426.8 1127.0,426.6 1128.3,427.4C1129.6,428.2 1130.8,440.9 1132.1,447.8C1133.8,457.0 1135.5,468.8 1137.2,475.8C1138.7,482.1 1140.3,487.7 1141.8,491.1C1142.8,493.3 1143.8,493.6 1144.8,496.2C1146.1,499.5 1147.4,516.3 1148.7,519.1C1150.8,523.6 1152.9,525.3 1155.0,526.8C1157.6,528.6 1160.1,530.6 1162.7,530.6C1165.7,530.6 1168.6,530.6 1171.6,530.6C1174.6,530.6 1177.5,534.4 1180.5,534.4C1183.5,534.4 1186.4,532.8 1189.4,530.6C1191.1,529.4 1192.8,524.9 1194.5,521.7C1195.8,519.3 1197.0,514.0 1198.3,514.0C1199.6,514.0 1200.9,519.4 1202.2,521.7C1204.3,525.4 1206.4,531.1 1208.5,531.8C1212.3,533.2 1216.2,533.9 1220.0,533.9C1221.1,533.9 1222.2,530.5 1223.3,530.5C1225.0,530.5 1226.6,532.7 1228.3,533.3C1230.3,534.0 1232.2,534.0 1234.2,534.7C1236.7,535.6 1239.2,539.5 1241.7,539.7C1243.9,539.9 1246.1,540.0 1248.3,540.0C1249.7,540.0 1251.1,539.2 1252.5,539.2C1254.4,539.2 1256.4,543.0 1258.3,543.0C1261.1,543.0 1263.9,540.8 1266.7,540.8C1268.1,540.8 1269.4,541.4 1270.8,542.0C1272.8,542.8 1274.7,545.2 1276.7,546.3C1278.9,547.5 1281.1,548.9 1283.3,549.2C1286.6,549.7 1290.0,549.7 1293.3,550.0C1295.5,550.2 1297.8,550.8 1300.0,550.8C1302.5,550.8 1305.0,549.7 1307.5,549.7C1310.6,549.7 1313.6,552.5 1316.7,552.5C1320.0,552.5 1323.4,552.2 1326.7,551.7C1328.9,551.4 1331.1,547.5 1333.3,545.0C1335.3,542.8 1337.2,537.5 1339.2,537.5C1340.6,537.5 1341.9,540.0 1343.3,541.7C1345.0,543.8 1346.6,549.0 1348.3,550.3C1350.5,552.1 1352.8,553.7 1355.0,553.7C1356.7,553.7 1358.3,551.2 1360.0,548.3C1361.1,546.4 1362.2,538.7 1363.3,536.7C1364.3,534.9 1365.2,533.0 1366.2,533.0C1367.2,533.0 1368.2,537.4 1369.2,540.0C1370.6,543.5 1371.9,551.7 1373.3,551.7C1374.7,551.7 1376.1,549.4 1377.5,548.3C1378.6,547.4 1379.7,545.8 1380.8,545.8C1382.2,545.8 1383.6,551.4 1385.0,552.5C1386.7,553.8 1388.3,555.0 1390.0,555.0C1391.7,555.0 1393.3,550.0 1395.0,548.3C1396.4,546.8 1397.8,544.7 1399.2,544.7C1400.6,544.7 1401.9,550.0 1403.3,551.7C1405.0,553.7 1406.6,555.3 1408.3,556.3C1411.1,557.9 1413.9,558.6 1416.7,559.7C1420.0,561.0 1423.4,563.3 1426.7,563.3C1428.9,563.3 1431.1,563.2 1433.3,563.0C1436.1,562.8 1438.9,562.1 1441.7,561.7"/>
<path fill="none" stroke="#008000" stroke-width="2.5" stroke-linejoin="round" stroke-linecap="round" d="M122.5,550.1C125.1,549.4 127.6,548.1 130.2,548.1C131.9,548.1 133.6,550.1 135.3,550.1C138.7,550.1 142.1,548.6 145.5,548.1C149.7,547.5 154.0,547.4 158.2,546.8C162.5,546.2 166.7,544.1 171.0,543.0C175.2,541.9 179.5,541.4 183.7,540.0C187.9,538.6 192.2,535.4 196.4,532.8C200.7,530.1 204.9,527.0 209.2,523.9C212.8,521.3 216.5,515.7 220.1,515.7C222.0,515.7 223.8,518.0 225.7,518.0C229.1,518.0 232.5,516.6 235.9,515.0C238.9,513.6 241.8,509.8 244.8,504.8C247.4,500.5 249.9,491.9 252.5,481.8C254.2,475.1 255.9,468.3 257.6,453.8C258.4,446.7 259.3,432.7 260.1,415.6C260.8,401.2 261.5,372.4 262.2,351.9C262.8,334.4 263.4,306.4 264.0,301.0C264.8,293.5 265.7,288.2 266.5,288.2C267.3,288.2 268.2,298.2 269.0,306.0C270.3,318.2 271.6,354.9 272.9,364.6C275.3,382.2 277.6,397.3 280.0,397.3C281.9,397.3 283.7,395.3 285.6,392.7C288.1,389.1 290.7,358.6 293.2,339.2C295.9,318.3 298.7,270.4 301.4,270.4C302.6,270.4 303.9,277.8 305.1,285.7C305.9,291.0 306.8,306.8 307.6,316.2C308.9,330.9 310.2,347.3 311.5,357.0C312.2,362.2 312.9,365.0 313.6,369.7C314.2,373.5 314.7,379.4 315.3,382.5C316.9,391.3 318.6,395.9 320.2,401.6C322.4,409.2 324.6,418.5 326.8,422.0C329.8,426.8 332.7,431.4 335.7,431.4C337.8,431.4 339.9,428.8 342.0,425.8C343.7,423.3 345.4,415.8 347.1,408.0C348.4,402.0 349.7,388.6 351.0,382.5C352.3,376.5 353.5,368.5 354.8,368.5C356.9,368.5 359.0,376.5 361.1,381.2C363.0,385.4 364.9,395.2 366.8,395.2C368.7,395.2 370.7,393.7 372.6,391.4C374.3,389.4 376.0,371.9 377.7,367.2C379.7,361.7 381.6,355.7 383.6,355.7C385.0,355.7 386.5,360.2 387.9,364.6C389.6,369.9 391.3,387.7 393.0,397.8C394.7,407.9 396.4,419.4 398.1,425.8C400.2,433.8 402.4,442.5 404.5,443.6C407.0,444.9 409.6,444.6 412.1,445.7C414.6,446.8 417.2,453.3 419.7,453.3C424.4,453.3 429.1,453.3 433.8,453.3C435.9,453.3 438.0,449.9 440.1,447.5C443.5,443.6 446.9,436.6 450.3,430.9C453.7,425.2 457.1,421.3 460.5,413.1C463.1,406.9 465.6,396.3 468.2,385.0C470.3,375.8 472.4,365.1 474.4,351.0C476.2,339.5 477.9,321.3 479.6,306.0C480.0,302.4 480.4,298.5 480.8,295.2C481.7,288.0 482.5,282.2 483.4,275.5C484.7,265.8 485.9,255.7 487.2,245.8C488.5,236.0 489.7,223.6 491.0,216.2C493.4,202.3 495.7,184.3 498.1,184.3C499.5,184.3 501.0,198.2 502.4,203.4C503.9,208.7 505.3,216.7 506.8,216.7C508.3,216.7 509.8,204.5 511.3,198.3C512.8,192.0 514.4,179.2 515.9,179.2C517.4,179.2 518.8,189.5 520.3,198.3C522.0,208.5 523.7,227.5 525.4,249.3C526.4,262.1 527.4,288.4 528.4,300.0C529.7,314.7 530.9,322.5 532.2,333.1C532.9,339.0 533.6,343.8 534.3,350.2C535.1,357.2 535.8,369.2 536.6,373.9C538.5,385.7 540.5,392.4 542.4,396.8C544.5,401.7 546.7,407.0 548.8,407.0C550.5,407.0 552.2,399.6 553.9,394.3C556.0,387.6 558.2,373.3 560.3,366.2C562.6,358.6 564.8,347.9 567.1,347.9C568.6,347.9 570.2,352.1 571.7,356.1C573.4,360.5 575.1,373.0 576.8,381.5C578.5,390.0 580.2,402.1 581.9,407.0C583.6,411.9 585.3,413.4 587.0,417.2C588.7,421.0 590.4,426.6 592.1,429.9C594.2,434.1 596.4,436.6 598.5,440.1C600.6,443.6 602.7,450.8 604.8,450.8C606.5,450.8 608.2,442.9 609.9,435.0C611.2,429.0 612.5,415.9 613.8,401.9C615.1,388.2 616.3,360.1 617.6,345.9C618.9,331.7 620.1,311.5 621.4,311.5C622.5,311.5 623.6,317.3 624.7,317.3C625.8,317.3 626.9,306.1 628.0,295.2C628.9,286.6 629.7,267.4 630.6,249.3C631.4,231.9 632.3,206.4 633.1,185.6C634.0,163.9 634.8,141.2 635.7,121.9C636.5,103.4 637.4,85.1 638.2,71.0C638.9,59.2 639.6,46.5 640.3,40.4C640.9,35.5 641.4,29.7 642.0,29.7C642.9,29.7 643.7,30.4 644.6,31.5C645.4,32.6 646.3,44.3 647.1,53.1C648.4,66.9 649.7,91.8 651.0,109.2C652.7,132.0 654.4,153.8 656.1,172.9C657.8,191.6 659.4,207.0 661.1,223.8C662.8,241.0 664.5,259.7 666.2,274.8C667.9,289.9 669.6,302.3 671.3,315.5C672.8,327.4 674.4,338.1 675.9,350.2C677.0,358.6 678.0,368.9 679.1,376.4C680.8,388.3 682.5,399.0 684.2,407.0C687.2,420.9 690.1,432.1 693.1,440.1C695.7,447.1 698.2,452.8 700.8,456.7C703.3,460.5 705.9,463.6 708.4,465.6C710.5,467.3 712.7,467.9 714.8,469.4C716.5,470.6 718.2,474.0 719.9,474.0C721.2,474.0 722.4,472.7 723.7,472.7C725.4,472.7 727.1,475.3 728.8,475.3C730.5,475.3 732.2,472.6 733.9,472.0C736.3,471.1 738.6,470.2 741.0,470.2C743.3,470.2 745.6,473.1 747.9,474.5C750.9,476.3 753.8,477.6 756.8,479.6C759.4,481.3 761.9,484.8 764.5,486.0C767.0,487.2 769.6,487.7 772.1,488.5C775.5,489.6 778.9,491.6 782.3,491.6C786.5,491.6 790.8,491.6 795.0,491.6C799.3,491.6 803.5,493.3 807.8,493.6C811.2,493.8 814.6,494.1 818.0,494.1C821.4,494.1 824.8,493.6 828.2,493.1C831.6,492.6 834.9,491.9 838.3,490.6C840.0,490.0 841.7,488.0 843.4,487.3C846.8,486.0 850.2,485.6 853.6,484.7C855.7,484.1 857.9,483.9 860.0,482.9C862.3,481.9 864.5,478.7 866.8,474.5C868.5,471.4 870.1,465.9 871.8,458.0C873.1,451.9 874.4,436.8 875.7,427.4C877.0,418.2 878.2,406.9 879.5,401.9C880.8,396.9 882.0,391.2 883.3,391.2C884.6,391.2 885.8,400.6 887.1,407.0C888.4,413.6 889.7,426.5 891.0,432.5C892.7,440.3 894.4,447.4 896.1,450.3C898.6,454.6 901.2,458.5 903.7,458.5C905.4,458.5 907.1,450.8 908.8,445.2C910.5,439.6 912.2,428.7 913.9,422.3C915.6,415.9 917.3,410.2 919.0,405.7C920.7,401.2 922.4,400.7 924.1,394.3C925.4,389.5 926.6,367.4 927.9,356.1C929.2,344.8 930.4,329.0 931.7,325.5C932.6,323.1 933.4,320.9 934.3,320.9C935.6,320.9 936.8,330.4 938.1,338.2C939.4,346.0 940.6,363.7 941.9,373.9C943.6,387.6 945.3,398.1 947.0,409.6C948.7,421.1 950.4,436.7 952.1,442.7C954.2,450.3 956.4,454.4 958.5,458.0C961.5,463.0 964.4,466.2 967.4,469.4C970.8,473.1 974.2,477.1 977.6,478.9C980.6,480.5 983.5,481.2 986.5,482.2C991.6,483.9 996.7,486.5 1001.8,486.5C1003.5,486.5 1005.2,485.0 1006.9,483.4C1008.6,481.8 1010.3,475.8 1012.0,473.2C1013.9,470.3 1015.7,466.1 1017.6,466.1C1019.1,466.1 1020.7,470.9 1022.2,473.2C1024.3,476.3 1026.4,479.8 1028.5,482.2C1032.3,486.5 1036.2,489.4 1040.0,492.4C1042.7,494.5 1045.3,496.8 1048.0,498.2C1050.1,499.3 1052.3,500.8 1054.4,500.8C1055.7,500.8 1056.9,497.9 1058.2,493.6C1059.1,490.7 1059.9,474.2 1060.8,465.6C1061.6,457.4 1062.5,446.5 1063.3,442.7C1064.0,439.5 1064.7,436.3 1065.4,436.3C1066.4,436.3 1067.4,445.6 1068.4,450.3C1069.7,456.2 1070.9,465.4 1072.2,468.2C1074.2,472.6 1076.1,474.0 1078.1,476.3C1079.5,478.0 1081.0,478.9 1082.4,480.9C1084.5,483.9 1086.7,494.2 1088.8,494.9C1091.3,495.7 1093.9,495.6 1096.4,496.2C1098.5,496.7 1100.7,498.2 1102.8,498.2C1104.9,498.2 1107.1,496.1 1109.2,493.6C1110.9,491.6 1112.6,486.7 1114.3,478.3C1115.1,474.2 1116.0,463.6 1116.8,452.9C1117.7,441.7 1118.5,418.5 1119.4,407.0C1120.1,398.2 1120.7,385.4 1121.4,385.4C1122.4,385.4 1123.5,398.8 1124.5,407.0C1125.8,417.1 1127.0,434.3 1128.3,442.7C1130.0,454.0 1131.7,460.6 1133.4,468.2C1135.5,477.6 1137.6,487.9 1139.7,493.6C1142.3,500.5 1144.8,505.2 1147.4,508.9C1150.8,513.9 1154.2,520.4 1157.6,520.4C1159.3,520.4 1161.0,514.5 1162.7,508.9C1164.4,503.3 1166.1,488.5 1167.8,478.3C1169.5,468.1 1171.2,456.4 1172.9,447.8C1175.6,434.2 1178.3,413.4 1181.0,413.4C1182.1,413.4 1183.2,424.4 1184.3,432.5C1185.6,442.1 1186.9,461.4 1188.2,473.2C1189.5,484.7 1190.7,496.9 1192.0,503.8C1193.7,513.0 1195.4,521.3 1197.1,524.2C1200.1,529.2 1203.0,530.9 1206.0,533.1C1210.7,536.5 1215.3,538.6 1220.0,540.8C1223.1,542.3 1226.1,544.7 1229.2,544.7C1231.4,544.7 1233.6,544.0 1235.8,543.0C1237.2,542.4 1238.6,539.0 1240.0,536.7C1242.2,533.0 1244.5,526.7 1246.7,524.2C1248.4,522.3 1250.0,520.0 1251.7,520.0C1253.1,520.0 1254.4,520.3 1255.8,520.3C1257.2,520.3 1258.6,518.4 1260.0,517.5C1261.4,516.6 1262.8,515.0 1264.2,515.0C1265.3,515.0 1266.4,516.4 1267.5,517.5C1268.8,518.8 1270.0,523.0 1271.3,523.0C1272.3,523.0 1273.2,521.5 1274.2,520.0C1275.3,518.3 1276.4,512.3 1277.5,510.0C1278.5,507.9 1279.5,505.3 1280.5,505.3C1281.7,505.3 1283.0,508.9 1284.2,511.7C1286.1,516.1 1288.1,527.9 1290.0,533.3C1292.2,539.6 1294.5,544.9 1296.7,548.3C1298.9,551.6 1301.1,554.7 1303.3,555.8C1305.5,556.9 1307.8,558.0 1310.0,558.0C1312.2,558.0 1314.5,557.5 1316.7,557.0C1318.4,556.6 1320.0,554.6 1321.7,554.2C1324.5,553.5 1327.2,553.3 1330.0,553.0C1332.8,552.7 1335.5,552.7 1338.3,552.2C1339.4,552.0 1340.6,550.5 1341.7,550.3C1343.4,550.0 1345.0,550.1 1346.7,549.7C1348.1,549.4 1349.4,547.5 1350.8,545.0C1351.9,542.9 1353.1,536.5 1354.2,530.0C1355.3,523.7 1356.4,512.7 1357.5,503.3C1358.6,493.9 1359.7,479.9 1360.8,473.3C1361.4,469.9 1361.9,465.3 1362.5,465.3C1363.2,465.3 1364.0,469.5 1364.7,473.3C1365.6,478.1 1366.6,493.4 1367.5,500.0C1368.6,507.8 1369.7,513.6 1370.8,518.3C1372.8,526.8 1374.7,532.9 1376.7,538.3C1378.9,544.3 1381.1,550.6 1383.3,553.3C1386.1,556.8 1388.9,559.2 1391.7,560.3C1394.5,561.4 1397.2,562.5 1400.0,562.5C1402.2,562.5 1404.5,560.7 1406.7,560.0C1408.9,559.3 1411.1,559.1 1413.3,558.0C1415.0,557.2 1416.6,554.7 1418.3,551.7C1420.0,548.7 1421.6,541.5 1423.3,536.7C1425.5,530.3 1427.8,525.9 1430.0,518.3C1431.7,512.6 1433.3,505.2 1435.0,496.7C1436.1,491.1 1437.2,482.5 1438.3,476.7C1439.3,471.4 1440.3,467.2 1441.3,462.5"/>
<line x1="121.05" y1="27" x2="121.05" y2="1102" stroke="#000" stroke-width="3.9"/><line x1="119.1" y1="1100.45" x2="1443.6" y2="1100.45" stroke="#000" stroke-width="3.7"/><line x1="121.0" y1="1100" x2="121.0" y2="1120.8" stroke="#000" stroke-width="3.8"/><path transform="translate(70.66,1171.20) scale(0.02212,-0.02212)" d="M763,0L583,0L583,1147C540,1106 484,1065 414,1024C345,983 282,952 223,930L223,1104C322,1150 408,1206 481,1272C555,1338 607,1405 637,1472L763,1472Z" fill="#000"/><text transform="translate(95.86,1171.20) scale(1,1.045)" font-size="45.3" fill="#000">800</text><line x1="203.6" y1="1100" x2="203.6" y2="1110.7" stroke="#000" stroke-width="3.8"/><line x1="286.1" y1="1100" x2="286.1" y2="1120.8" stroke="#000" stroke-width="3.8"/><path transform="translate(235.74,1171.20) scale(0.02212,-0.02212)" d="M763,0L583,0L583,1147C540,1106 484,1065 414,1024C345,983 282,952 223,930L223,1104C322,1150 408,1206 481,1272C555,1338 607,1405 637,1472L763,1472Z" fill="#000"/><text transform="translate(260.94,1171.20) scale(1,1.045)" font-size="45.3" fill="#000">600</text><line x1="368.7" y1="1100" x2="368.7" y2="1110.7" stroke="#000" stroke-width="3.8"/><line x1="451.2" y1="1100" x2="451.2" y2="1120.8" stroke="#000" stroke-width="3.8"/><path transform="translate(400.83,1171.20) scale(0.02212,-0.02212)" d="M763,0L583,0L583,1147C540,1106 484,1065 414,1024C345,983 282,952 223,930L223,1104C322,1150 408,1206 481,1272C555,1338 607,1405 637,1472L763,1472Z" fill="#000"/><text transform="translate(426.02,1171.20) scale(1,1.045)" font-size="45.3" fill="#000">400</text><line x1="533.8" y1="1100" x2="533.8" y2="1110.7" stroke="#000" stroke-width="3.8"/><line x1="616.3" y1="1100" x2="616.3" y2="1120.8" stroke="#000" stroke-width="3.8"/><path transform="translate(565.91,1171.20) scale(0.02212,-0.02212)" d="M763,0L583,0L583,1147C540,1106 484,1065 414,1024C345,983 282,952 223,930L223,1104C322,1150 408,1206 481,1272C555,1338 607,1405 637,1472L763,1472Z" fill="#000"/><text transform="translate(591.10,1171.20) scale(1,1.045)" font-size="45.3" fill="#000">200</text><line x1="698.8" y1="1100" x2="698.8" y2="1110.7" stroke="#000" stroke-width="3.8"/><line x1="781.4" y1="1100" x2="781.4" y2="1120.8" stroke="#000" stroke-width="3.8"/><path transform="translate(730.99,1171.20) scale(0.02212,-0.02212)" d="M763,0L583,0L583,1147C540,1106 484,1065 414,1024C345,983 282,952 223,930L223,1104C322,1150 408,1206 481,1272C555,1338 607,1405 637,1472L763,1472Z" fill="#000"/><text transform="translate(756.18,1171.20) scale(1,1.045)" font-size="45.3" fill="#000">000</text><line x1="863.9" y1="1100" x2="863.9" y2="1110.7" stroke="#000" stroke-width="3.8"/><line x1="946.5" y1="1100" x2="946.5" y2="1120.8" stroke="#000" stroke-width="3.8"/><text transform="translate(908.67,1171.20) scale(1,1.045)" font-size="45.3" fill="#000">800</text><line x1="1029.0" y1="1100" x2="1029.0" y2="1110.7" stroke="#000" stroke-width="3.8"/><line x1="1111.5" y1="1100" x2="1111.5" y2="1120.8" stroke="#000" stroke-width="3.8"/><text transform="translate(1073.75,1171.20) scale(1,1.045)" font-size="45.3" fill="#000">600</text><line x1="1194.1" y1="1100" x2="1194.1" y2="1110.7" stroke="#000" stroke-width="3.8"/><line x1="1276.6" y1="1100" x2="1276.6" y2="1120.8" stroke="#000" stroke-width="3.8"/><text transform="translate(1238.83,1171.20) scale(1,1.045)" font-size="45.3" fill="#000">400</text><line x1="1359.2" y1="1100" x2="1359.2" y2="1110.7" stroke="#000" stroke-width="3.8"/><line x1="1441.7" y1="1100" x2="1441.7" y2="1120.8" stroke="#000" stroke-width="3.8"/><text transform="translate(1403.91,1171.20) scale(1,1.045)" font-size="45.3" fill="#000">200</text>
<rect x="131.3" y="30.5" width="315.4" height="76.5" fill="#fff" stroke="#000" stroke-width="1.5"/><text transform="translate(138.05,88.6) scale(1,1.03)" font-size="55.4">exc. 633 nm</text><text x="717.36" y="280" font-size="55.4">higher oligomer stage</text><text x="704.15" y="840.9" font-size="55.4">adsorption stage</text><text transform="translate(1212.93,464) scale(1,1.04)" font-size="55.4" fill="#008000">pH </text><path transform="translate(1299.14,464.00) scale(0.02705,-0.02705)" d="M763,0L583,0L583,1147C540,1106 484,1065 414,1024C345,983 282,952 223,930L223,1104C322,1150 408,1206 481,1272C555,1338 607,1405 637,1472L763,1472Z" fill="#008000"/><text transform="translate(1206.13,642.4) scale(1,1.04)" font-size="55.4" fill="#ff0000">pH 7</text><text transform="translate(75,815.34) rotate(-90)" font-size="55.4">Normalized intensity</text><text x="560.46" y="1267.7" font-size="55.4">Raman shift, cm</text><text transform="translate(958.85,1247.3)" font-size="37.5">&#8722;</text><path transform="translate(980.75,1245.00) scale(0.01831,-0.01831)" d="M763,0L583,0L583,1147C540,1106 484,1065 414,1024C345,983 282,952 223,930L223,1104C322,1150 408,1206 481,1272C555,1338 607,1405 637,1472L763,1472Z" fill="#000"/>
</svg>
</body></html>
